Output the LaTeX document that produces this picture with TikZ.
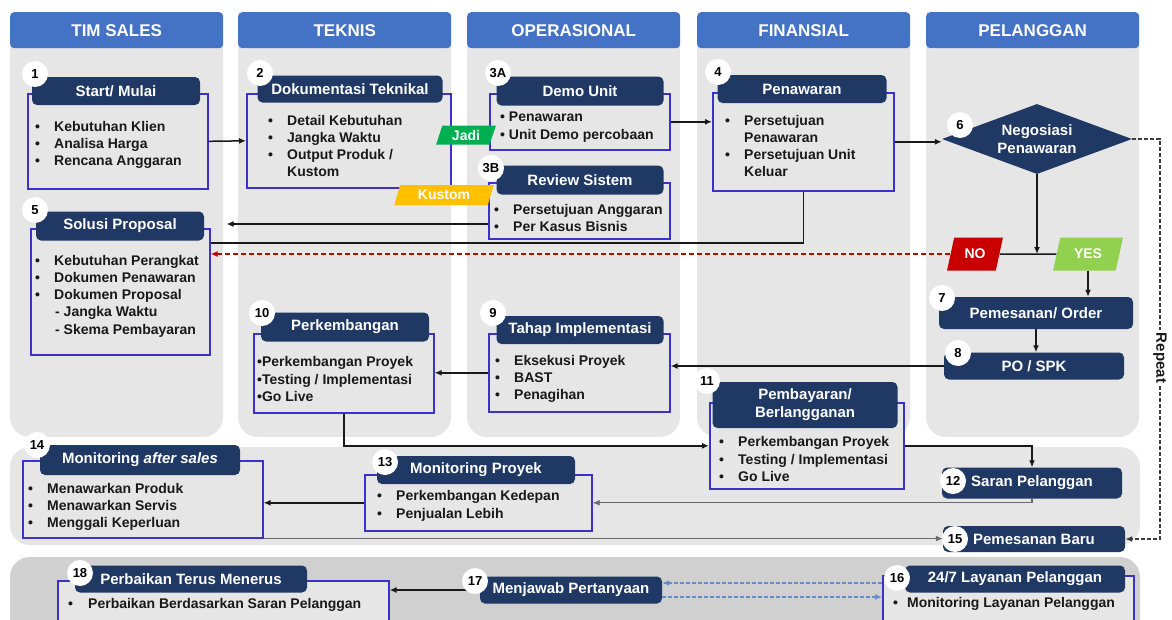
\documentclass[tikz,border=0pt]{standalone}
\usepackage{fontspec}
\setmainfont{Liberation Sans}
\usetikzlibrary{shapes.geometric,arrows.meta}
\definecolor{headblue}{RGB}{68,114,196}
\definecolor{lanegray}{RGB}{230,230,230}
\definecolor{lowgray}{RGB}{208,208,208}
\definecolor{navy}{RGB}{31,56,100}
\definecolor{boxblue}{RGB}{60,50,200}
\definecolor{ink}{RGB}{25,25,25}
\definecolor{jadigreen}{RGB}{0,176,80}
\definecolor{yesgreen}{RGB}{146,208,80}
\definecolor{nored}{RGB}{200,0,0}
\definecolor{kustomyellow}{RGB}{255,192,0}
\definecolor{helpblue}{RGB}{100,140,205}
\newcommand{\itm}{\makebox[19pt][l]{\textbullet}}

\begin{document}
\begin{tikzpicture}[x=1pt, y=-1pt, >={Latex[length=7pt,width=6pt]},
lane/.style = {fill=lanegray, rounded corners=20pt},
headbar/.style = {fill=headblue, rounded corners=4pt, text=white,
	minimum width=213pt, minimum height=36pt, anchor=north west,
	font=\bfseries\fontsize{17}{17}\selectfont},
bar/.style = {fill=navy, rounded corners=5pt, text=white, inner sep=0pt, align=center,
	font=\bfseries\fontsize{15}{18}\selectfont},
body/.style = {draw=boxblue, line width=1.6pt, fill=lanegray, inner sep=0pt, anchor=north west},
items/.style = {anchor=west, inner sep=0pt, align=left, text=ink,
	font=\bfseries\fontsize{14}{17.3}\selectfont},
num/.style = {circle, fill=white, inner sep=0pt, minimum size=26pt,
	font=\bfseries\fontsize{13}{13}\selectfont},
link/.style = {->, draw=ink, line width=1.5pt},
rep/.style = {draw=ink!85, line width=1.5pt, dash pattern=on 4pt off 2pt},
help/.style = {->, draw=helpblue, line width=1.4pt, dash pattern=on 4pt off 2pt},
tag/.style = {trapezium, trapezium left angle=70, trapezium right angle=110,
	trapezium stretches=true, inner sep=0pt, text=white,
	font=\bfseries\fontsize{14}{14}\selectfont}]

\useasboundingbox (0,0) rectangle (1172,619);

\foreach \x/\name/\lbl in {10/sales/TIM SALES, 238/teknis/TEKNIS, 467/ops/OPERASIONAL,
	697/fin/FINANSIAL, 926/cust/PELANGGAN}{
	\fill[lane] (\x,20) rectangle ++(213,417);
	\node (h-\name) [headbar] at (\x,12) {\lbl};
}
\fill[lane] (10,447) rectangle (1140,545);
\fill[lane, fill=lowgray] (10,557) rectangle (1140,640);

\node (b1) [body, minimum width=180pt, minimum height=95pt] at (27,93) {};
\node (b2) [body, minimum width=204pt, minimum height=94pt] at (246,93) {};
\node (b3a) [body, minimum width=180pt, minimum height=56pt] at (489,93) {};
\node (b3b) [body, minimum width=181pt, minimum height=56pt] at (488,182) {};
\node (b4) [body, minimum width=181pt, minimum height=98pt] at (712,92) {};
\node (b5) [body, minimum width=179pt, minimum height=126pt] at (30,228) {};
\node (b9) [body, minimum width=181pt, minimum height=78pt] at (488,333) {};
\node (b10) [body, minimum width=180pt, minimum height=79pt] at (253,333) {};
\node (b11) [body, minimum width=194pt, minimum height=86pt] at (709,402) {};
\node (b13) [body, minimum width=227pt, minimum height=56pt] at (364,474) {};
\node (b14) [body, minimum width=240pt, minimum height=77pt] at (22,460) {};
\node (b16) [body, minimum width=251pt, minimum height=60pt] at (882,575) {};
\node (b18) [body, minimum width=331pt, minimum height=50pt] at (57,580) {};

\node (jadi) [tag, fill=jadigreen, minimum width=60pt, minimum height=19pt] at (466,135) {Jadi};
\node (kustom) [tag, fill=kustomyellow, minimum width=100pt, minimum height=20pt] at (444,195) {Kustom};
\node (d6) [diamond, fill=navy, aspect=2.7, minimum width=190pt, minimum height=70pt,
	inner sep=0pt, text=white, align=center, font=\bfseries\fontsize{15}{18}\selectfont]
	at (1037,139) {Negosiasi\\Penawaran};
\node (no) [tag, fill=nored, minimum width=56pt, minimum height=33pt] at (975,254) {NO};
\node (yes) [tag, fill=yesgreen, minimum width=70pt, minimum height=33pt] at (1088,254) {YES};
\node (b7) [bar, minimum width=194pt, minimum height=32pt] at (1036,313) {Pemesanan/ Order};
\node (b8) [bar, minimum width=180pt, minimum height=27pt] at (1034,366) {PO / SPK};
\node (b12) [bar, minimum width=180pt, minimum height=31pt] at (1032,483) {Saran Pelanggan};
\node (b15) [bar, minimum width=182pt, minimum height=26pt] at (1034,539) {Pemesanan Baru};
\node (b17) [bar, minimum width=182pt, minimum height=27pt] at (571,590) {Menjawab Pertanyaan};
\node (rp) [rotate=-90, fill=white, inner sep=3pt, text=ink,
	font=\bfseries\fontsize{15}{15}\selectfont] at (1160,358) {Repeat};

\draw[link] (b1.east) -- (b2.west);
\draw[link] (b3a.east) -- (b3a.east -| b4.west);
\draw[link] (b4.east) -- (b4.east -| d6.west);
\coordinate (q0) at ([yshift=4pt]b5.north east);
\draw[link, shorten >=16pt] (q0 -| b3b.west) -- (q0);
\draw[link, -] (b4.south) |- ([yshift=-15pt]b5.north east);
\draw[link, draw=nored, dash pattern=on 5pt off 3pt] (no.west) -- (no.west -| b5.east);
\draw[link] (d6.south) -- (d6.south |- no.east);
\draw[draw=ink, line width=1.5pt] (no.east) -- (yes.west);
\draw[link] (yes.south) -- (yes.south |- b7.north);
\draw[link] (b7.south) -- (b7.south |- b8.north);
\draw[link] (b8.west) -- (b8.west -| b9.east);
\draw[link] (b9.west) -- (b9.west -| b10.east);
\draw[link] (b10.south) |- (b11.west);
\draw[link] (b11.east) -| (b12.north);
\draw[link, draw=ink!65, line width=1.2pt] (b12.south) |- (b13.east);
\draw[link] (b13.west) -- (b13.west -| b14.east);
\draw[link, draw=ink!65, line width=1.2pt] (b14.south east) -- (b14.south east -| b15.west);
\draw[rep] (d6.east) -| (rp.west);
\draw[rep, ->] (rp.east) |- (b15.east);
\coordinate (q1) at ([yshift=7pt]b17.east);
\coordinate (q2) at ([yshift=-7pt]b17.east);
\draw[help] (q1 -| b16.west) -- (q1);
\draw[help] (q2) -- (q2 -| b16.west);
\draw[link] (b17.west) -- (b17.west -| b18.east);

\node (t1) [bar, minimum width=168pt, minimum height=28pt] at (116,91) {Start/ Mulai};
\node (t2) [bar, minimum width=185pt, minimum height=27pt] at (350,89) {Dokumentasi Teknikal};
\node (t3a) [bar, minimum width=167pt, minimum height=29pt] at (580,91) {Demo Unit};
\node (t3b) [bar, minimum width=167pt, minimum height=29pt] at (580,180) {Review Sistem};
\node (t4) [bar, minimum width=169pt, minimum height=28pt] at (802,89) {Penawaran};
\node (t5) [bar, minimum width=168pt, minimum height=29pt] at (120,226) {Solusi Proposal};
\node (t9) [bar, minimum width=167pt, minimum height=28pt] at (580,330) {Tahap Implementasi};
\node (t10) [bar, minimum width=168pt, minimum height=29pt] at (345,327) {Perkembangan};
\node (t11) [bar, minimum width=185pt, minimum height=46pt] at (805,405) {Pembayaran/\\Berlangganan};
\node (t13) [bar, minimum width=198pt, minimum height=28pt] at (476,470) {Monitoring Proyek};
\node (t14) [bar, minimum width=200pt, minimum height=30pt] at (140,460) {Monitoring \textit{after sales}};
\node (t16) [bar, minimum width=220pt, minimum height=27pt] at (1015,579) {24/7 Layanan Pelanggan};
\node (t18) [bar, minimum width=232pt, minimum height=27pt] at (191,579) {Perbaikan Terus Menerus};

\node (i1) [items] at (35,145) {\itm Kebutuhan Klien\\\itm Analisa Harga\\\itm Rencana Anggaran};
\node (i2) [items] at (268,146) {\itm Detail Kebutuhan\\\itm Jangka Waktu\\\itm Output Produk /\\\hspace*{19pt}Kustom};
\node (i3a) [items] at (500,127) {\textbullet{} Penawaran\\\textbullet{} Unit Demo percobaan};
\node (i3b) [items] at (494,218) {\itm Persetujuan Anggaran\\\itm Per Kasus Bisnis};
\node (i4) [items] at (725,146) {\itm Persetujuan\\\hspace*{19pt}Penawaran\\\itm Persetujuan Unit\\\hspace*{19pt}Keluar};
\node (i5) [items] at (35,296) {\itm Kebutuhan Perangkat\\\itm Dokumen Penawaran\\\itm Dokumen Proposal\\
	\hspace*{20pt}- Jangka Waktu\\\hspace*{20pt}- Skema Pembayaran};
\node (i9) [items] at (495,379) {\itm Eksekusi Proyek\\\itm BAST\\\itm Penagihan};
\node (i10) [items] at (257,379) {\textbullet Perkembangan Proyek\\\textbullet Testing / Implementasi\\\textbullet Go Live};
\node (i11) [items] at (719,459) {\itm Perkembangan Proyek\\\itm Testing / Implementasi\\\itm Go Live};
\node (i13) [items] at (377,506) {\itm Perkembangan Kedepan\\\itm Penjualan Lebih};
\node (i14) [items] at (28,507) {\itm Menawarkan Produk\\\itm Menawarkan Servis\\\itm Menggali Keperluan};
\node (i16) [items] at (893,604) {\makebox[14pt][l]{\textbullet}Monitoring Layanan Pelanggan};
\node (i18) [items] at (68,605) {\makebox[20pt][l]{\textbullet}Perbaikan Berdasarkan Saran Pelanggan};

\foreach \n/\x/\y in {1/35/74, 2/260/73, 3A/498/73, 3B/491/168, 4/718/72, 5/35/210,
	6/960/125, 7/942/298, 8/958/353, 9/493/313, 10/262/313, 11/707/381, 12/953/481,
	13/385/462, 14/37/445, 15/955/539, 16/897/578, 17/475/581, 18/80/573}
	\node (n\n) [num] at (\x,\y) {\n};
\end{tikzpicture}
\end{document}
